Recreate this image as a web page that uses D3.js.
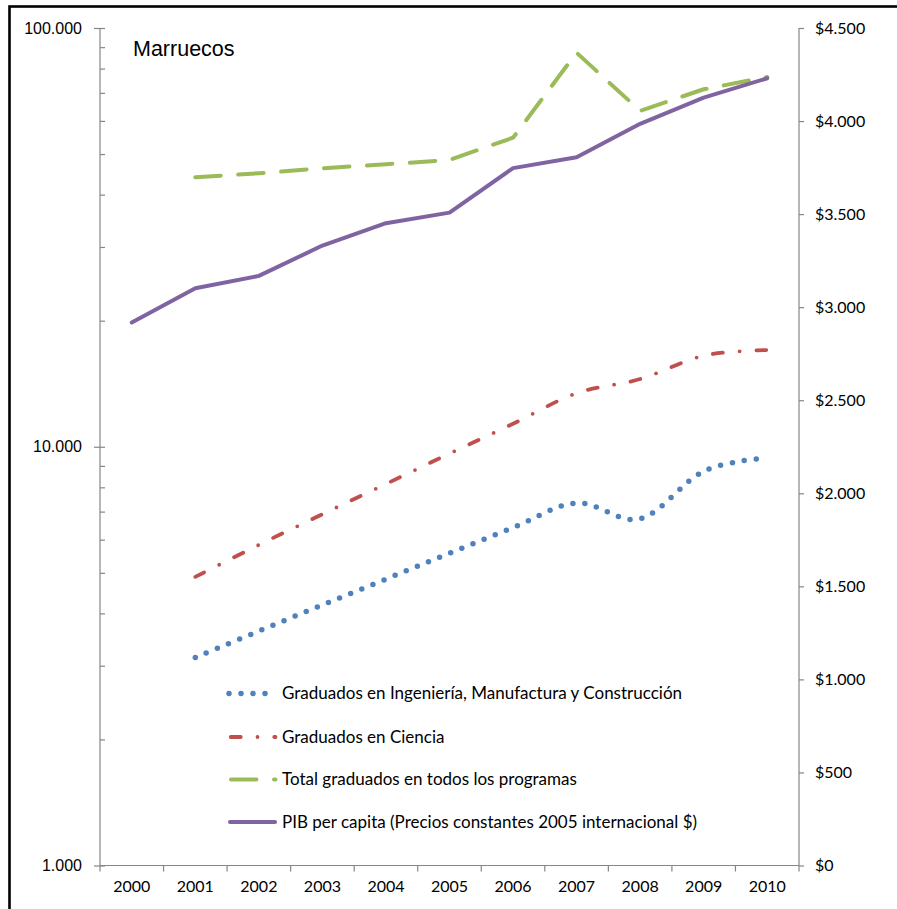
<!DOCTYPE html>
<html>
<head>
<meta charset="utf-8">
<script src="https://cdn.jsdelivr.net/npm/d3@7"></script>
<style>
  body { margin: 0; background: #fff; }
  svg { display: block; }
</style>
</head>
<body>
<svg id="chart" width="897" height="909"></svg>
<script>
// ---- data ----
const years = ["2000", "2001", "2002", "2003", "2004", "2005", "2006", "2007", "2008", "2009", "2010"];
const engineeringGrads = [null, 3140, 3630, 4190, 4830, 5570, 6410, 7340, 6730, 8740, 9410];
const scienceGrads = [null, 4890, 5830, 6900, 8150, 9630, 11350, 13420, 14510, 16500, 17020];
const totalGrads = [null, 44000, 44980, 46250, 47270, 48400, 54700, 87300, 63400, 71400, 76400];
const gdpPerCapita = [2918, 3102, 3168, 3331, 3451, 3508, 3747, 3806, 3985, 4126, 4230];
const leftTicks = [1000, 10000, 100000];
const rightTicks = [0, 500, 1000, 1500, 2000, 2500, 3000, 3500, 4000, 4500];
const chartTitle = "Marruecos";
const seriesNames = [
  "Graduados en Ingeniería, Manufactura y Construcción",
  "Graduados en Ciencia",
  "Total graduados en todos los programas",
  "PIB per capita (Precios constantes 2005 internacional $)"
];

// ---- layout ----
const plot = { left: 100, right: 799, top: 28, bottom: 865.5 };
const axisColor = "#868686";
const calibriLike = "Lato, 'Open Sans', sans-serif";
const arialLike = "'Liberation Sans', Arial, sans-serif";

const locale = d3.formatLocale({ decimal: ",", thousands: ".", grouping: [3], currency: ["$", ""] });
const fmtLeft = locale.format(",");
const fmtRight = locale.format("$,");

const svg = d3.select("#chart");

// outer frame
svg.append("rect")
  .attr("x", 9.5).attr("y", 6.5).attr("width", 920).attr("height", 940)
  .attr("fill", "none").attr("stroke", "#000").attr("stroke-width", 2.6);

// ---- scales ----
const x = d3.scaleBand().domain(years).range([plot.left, plot.right]).padding(0);
const xc = d => x(d) + x.bandwidth() / 2;
const yLeft = d3.scaleLog().domain([1000, 100000]).range([plot.bottom, plot.top]);
const yRight = d3.scaleLinear().domain([0, 4500]).range([plot.bottom, plot.top]);

// ---- left axis (log) ----
const minorVals = [];
for (let e = 3; e < 5; e++) for (let m = 1; m <= 9; m++) minorVals.push(m * Math.pow(10, e));
minorVals.push(100000);

const gLeft = svg.append("g").attr("transform", `translate(${plot.left},0)`);
// minor ticks point inward
gLeft.call(d3.axisRight(yLeft).tickValues(minorVals).tickSize(5).tickFormat(""))
  .call(g => g.select(".domain").remove());
// major ticks point outward, with labels
gLeft.append("g").call(d3.axisLeft(yLeft).tickValues(leftTicks).tickSize(6).tickPadding(12).tickFormat(fmtLeft))
  .call(g => g.select(".domain").remove())
  .call(g => g.selectAll("text").attr("font-family", arialLike).attr("font-size", 16).attr("fill", "#000"));
gLeft.append("line").attr("y1", plot.top).attr("y2", plot.bottom);
gLeft.selectAll("line").attr("stroke", axisColor).attr("stroke-width", 1.2);

// ---- right axis ----
const gRight = svg.append("g").attr("transform", `translate(${plot.right},0)`)
  .call(d3.axisRight(yRight).tickValues(rightTicks).tickSize(5).tickPadding(11).tickFormat(fmtRight))
  .call(g => g.select(".domain").attr("d", `M0,${plot.top}V${plot.bottom}`).attr("stroke", axisColor).attr("stroke-width", 1.2))
  .call(g => g.selectAll("line").attr("stroke", axisColor).attr("stroke-width", 1.2))
  .call(g => g.selectAll("text").attr("font-family", calibriLike).attr("font-size", 16).attr("fill", "#000"));

// ---- bottom axis (category) ----
const gBottom = svg.append("g").attr("transform", `translate(0,${plot.bottom})`)
  .call(d3.axisBottom(x).tickSize(0).tickPadding(15))
  .call(g => g.select(".domain").attr("d", `M${plot.left},0H${plot.right}`).attr("stroke", axisColor).attr("stroke-width", 1.2))
  .call(g => g.selectAll("text").attr("font-family", calibriLike).attr("font-size", 16).attr("fill", "#000"));
// tick marks sit on the category boundaries
gBottom.selectAll(".edge").data(years.concat(["end"])).join("line")
  .attr("class", "edge")
  .attr("x1", (d, i) => i < years.length ? x(d) : plot.right)
  .attr("x2", (d, i) => i < years.length ? x(d) : plot.right)
  .attr("y1", 0).attr("y2", 6)
  .attr("stroke", axisColor).attr("stroke-width", 1.2);

// ---- series ----
const series = [
  { name: seriesNames[0], values: engineeringGrads, scale: yLeft, color: "#4F81BD", width: 5.5, dash: "0 12", curve: d3.curveCardinal },
  { name: seriesNames[1], values: scienceGrads, scale: yLeft, color: "#C0504D", width: 3.8, dash: "10 16.75 0 16.75", curve: d3.curveCardinal },
  { name: seriesNames[2], values: totalGrads, scale: yLeft, color: "#9BBB59", width: 4, dash: "25.5 17.5", curve: d3.curveLinear },
  { name: seriesNames[3], values: gdpPerCapita, scale: yRight, color: "#8064A2", width: 4, dash: null, curve: d3.curveLinear }
];

const gLines = svg.append("g");
series.forEach(s => {
  const line = d3.line()
    .defined(d => d.v != null)
    .x(d => xc(d.year))
    .y(d => s.scale(d.v))
    .curve(s.curve);
  gLines.append("path")
    .datum(years.map((year, i) => ({ year, v: s.values[i] })))
    .attr("d", line)
    .attr("fill", "none")
    .attr("stroke", s.color)
    .attr("stroke-width", s.width)
    .attr("stroke-linecap", "round")
    .attr("stroke-linejoin", "round")
    .attr("stroke-dasharray", s.dash);
});

// ---- title ----
svg.append("text")
  .attr("x", 133).attr("y", 56)
  .attr("font-family", arialLike).attr("font-size", 21.5).attr("fill", "#000")
  .text(chartTitle);

// ---- legend ----
const legendRows = [693.5, 737, 779.5, 822];
const legend = svg.append("g");
const sampleSpans = [[229, 267], [230.75, 275.5], [231, 275.5], [230, 275]];
series.forEach((s, i) => {
  const row = legend.append("g").attr("transform", `translate(0,${legendRows[i]})`);
  row.append("line")
    .attr("x1", sampleSpans[i][0]).attr("x2", sampleSpans[i][1]).attr("y1", 0).attr("y2", 0)
    .attr("stroke", s.color).attr("stroke-width", s.width)
    .attr("stroke-linecap", "round")
    .attr("stroke-dasharray", s.dash);
  row.append("text")
    .attr("x", 282).attr("y", 0).attr("dy", "0.35em")
    .attr("font-family", calibriLike).attr("font-size", 17).attr("fill", "#000")
    .text(s.name);
});
</script>
</body>
</html>
